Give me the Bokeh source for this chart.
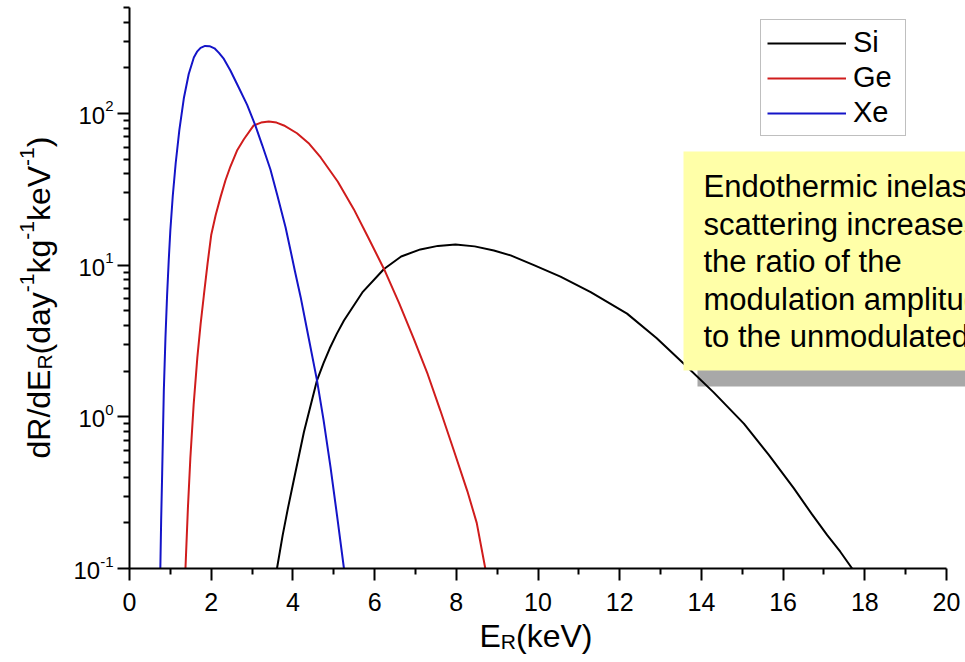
import math

from bokeh.core.properties import value
from bokeh.embed import file_html
from bokeh.layouts import column, row
from bokeh.models import CustomJSTickFormatter, FixedTicker, Range1d
from bokeh.plotting import figure
from bokeh.resources import INLINE

# Differential recoil rate dR/dE_R (day^-1 kg^-1 keV^-1) against recoil energy E_R (keV)
si_energy = [3.61, 3.75, 3.88, 4.02, 4.27, 4.59, 4.75, 4.90, 5.07, 5.25, 5.70,
             6.23, 6.65, 7.12, 7.55, 7.98, 8.45, 8.92, 9.33, 9.90, 10.55, 11.29,
             12.18, 12.90, 13.57, 14.30, 15.04, 15.65, 16.26, 16.70, 17.08,
             17.40, 17.69]
si_rate = [0.100, 0.166, 0.251, 0.380, 0.794, 1.74, 2.26, 2.82, 3.51, 4.32, 6.61,
           9.44, 11.4, 12.7, 13.4, 13.7, 13.3, 12.5, 11.6, 10.0, 8.41, 6.64,
           4.79, 3.31, 2.24, 1.45, 0.902, 0.562, 0.339, 0.229, 0.166,
           0.129, 0.100]

ge_energy = [1.37, 1.43, 1.49, 1.57, 1.66, 1.74, 1.82, 1.91, 2.00, 2.11, 2.23,
             2.35, 2.47, 2.64, 2.80, 3.04, 3.22, 3.41, 3.60, 3.78, 4.10, 4.40,
             4.68, 5.10, 5.49, 5.85, 6.23, 6.60, 6.96, 7.30, 7.61, 7.95, 8.27,
             8.50, 8.71]
ge_rate = [0.100, 0.251, 0.537, 1.20, 2.45, 4.07, 6.31, 10.2, 15.8, 21.4, 28.2,
           36.3, 44.7, 57.5, 67.6, 83.4, 87.1, 88.5, 87.1, 83.4, 74.1, 63.1,
           51.3, 35.5, 23.4, 15.1, 9.44, 5.62, 3.27, 1.91, 1.10, 0.589, 0.324,
           0.200, 0.100]

xe_energy = [0.755, 0.775, 0.80, 0.82, 0.84, 0.88, 0.92, 0.96, 1.00, 1.06, 1.13,
             1.22, 1.33, 1.45, 1.575, 1.66, 1.74, 1.85, 1.96, 2.08, 2.19, 2.31,
             2.47, 2.65, 2.88, 3.08, 3.25, 3.45, 3.62, 3.82, 3.94, 4.05, 4.19,
             4.39, 4.59, 4.75, 4.92, 5.08, 5.25]
xe_rate = [0.100, 0.209, 0.427, 0.794, 1.48, 3.31, 6.31, 10.7, 17.0, 28.8, 46.8,
           77.6, 126, 182, 234, 257, 271, 279, 278, 269, 251, 229,
           192, 153, 114, 83.4, 61.7, 42.7, 28.8, 17.8, 12.6, 9.12, 6.15,
           3.27, 1.74, 0.955, 0.468, 0.224, 0.100]

series_names = ["Si", "Ge", "Xe"]
series_colors = ["#000000", "#d01c1c", "#1414c8"]

x_ticks = [0, 2, 4, 6, 8, 10, 12, 14, 16, 18, 20]
x_minor_ticks = [1, 3, 5, 7, 9, 11, 13, 15, 17, 19]
y_ticks = [0.1, 1, 10, 100]
y_minor_ticks = [0.2, 0.3, 0.4, 0.5, 0.6, 0.7, 0.8, 0.9,
                 2, 3, 4, 5, 6, 7, 8, 9,
                 20, 30, 40, 50, 60, 70, 80, 90,
                 200, 300, 400, 500]

note_lines = ["Endothermic inelastic", "scattering increases", "the ratio of the",
              "modulation amplitude", "to the unmodulated"]

# ---- page geometry (pixels) ----
W, H = 965, 662
LEFT_W = 115          # strip holding the y tick labels and the y title
AXIS_W = 14           # room for the outward y ticks
TOP_H = 586           # height of the plot (frame plus the outward x ticks)
FRAME_BOTTOM = 568    # bottom edge of the data frame
X0 = LEFT_W + AXIS_W  # page x of E_R = 0
PX_PER_KEV = 40.85
PX_PER_DECADE = 151.67
FONT = "Liberation Sans"

# advance widths (em) used to chain text pieces together
ADV = {"d": .556, "R": .722, "/": .278, "E": .667, "(": .333, "a": .556,
       "y": .5, "-": .333, "1": .556, "k": .5, "g": .556, "e": .556,
       "V": .667, ")": .333, "0": .556, "2": .556}


def text_width(s, size):
    return sum(ADV.get(c, .556) for c in s) * size


def xd(px):
    """page x pixel -> keV"""
    return (px - X0) / PX_PER_KEV


def yd(py):
    """page y pixel (from top) -> rate on the log axis"""
    return 10 ** (-1 + (FRAME_BOTTOM - py) / PX_PER_DECADE)


def bare(fig):
    fig.outline_line_color = None
    fig.grid.visible = False
    fig.background_fill_color = "white"
    fig.border_fill_color = "white"
    # each strip keeps its own frame instead of lining up with its neighbours
    fig.frame_align = False
    return fig


# ---- main plot ----
p = bare(figure(width=W - LEFT_W, height=TOP_H, y_axis_type="log",
                x_range=Range1d(0, xd(W)), y_range=Range1d(0.1, yd(0)),
                output_backend="svg", toolbar_location=None,
                min_border_left=AXIS_W, min_border_right=0,
                min_border_top=0, min_border_bottom=TOP_H - FRAME_BOTTOM))

for ax in (p.xaxis[0], p.yaxis[0]):
    ax.axis_line_width = 2
    ax.axis_line_color = "black"
    ax.major_tick_line_width = 2
    ax.minor_tick_line_width = 2
    ax.major_tick_line_color = "black"
    ax.minor_tick_line_color = "black"
    ax.major_tick_in = 0
    ax.minor_tick_in = 0
    ax.major_tick_out = 12
    ax.minor_tick_out = 6
    ax.formatter = CustomJSTickFormatter(code="return ''")
    ax.major_label_text_font_size = "0px"
    ax.major_label_standoff = 0

xax = p.xaxis[0]
xax.bounds = (0, 20)
xax.ticker = FixedTicker(ticks=x_ticks, minor_ticks=x_minor_ticks)

yax = p.yaxis[0]
yax.bounds = (0.1, 500)
yax.ticker = FixedTicker(ticks=y_ticks, minor_ticks=y_minor_ticks)

# call-out shadow sits under the curves, the yellow card above them
p.quad(left=xd(697), right=xd(W + 30), top=yd(167), bottom=yd(386),
       fill_color="#a8a8a8", line_color=None)

for name, color, ex, ry in zip(series_names, series_colors,
                               [si_energy, ge_energy, xe_energy],
                               [si_rate, ge_rate, xe_rate]):
    p.line(ex, ry, line_color=color, line_width=2, legend_label=name)

p.quad(left=xd(683), right=xd(W + 30), top=yd(151), bottom=yd(370),
       fill_color="#ffffa8", line_color=None)
p.text(x=[xd(703)] * len(note_lines),
       y=[yd(186 + 37.5 * i) for i in range(len(note_lines))],
       text=note_lines, text_font=value(FONT), text_font_size="31px",
       text_baseline="alphabetic", text_align="left", text_color="black")

lg = p.legend[0]
lg.location = (760 - X0, FRAME_BOTTOM - 136)
lg.border_line_color = "#808080"
lg.border_line_width = 1.5
lg.background_fill_color = "white"
lg.background_fill_alpha = 1
lg.label_text_font = FONT
lg.label_text_font_size = "29px"
lg.label_text_color = "black"
lg.glyph_width = 79
lg.glyph_height = 30
lg.label_height = 30
lg.label_width = 46
lg.label_standoff = 7
lg.spacing = 2
lg.padding = 6
lg.margin = 0

# ---- left strip: y tick labels (10 with raised exponent) and y title ----
left = bare(figure(width=LEFT_W, height=H, y_axis_type="log",
                   x_range=Range1d(0, LEFT_W), y_range=Range1d(yd(H), yd(0)),
                   x_axis_location=None, y_axis_location=None,
                   output_backend="svg", toolbar_location=None, min_border=0))

LABEL_RIGHT = 113
exps = [str(int(round(math.log10(v)))) for v in y_ticks]
left.text(x=[LABEL_RIGHT] * len(y_ticks), y=y_ticks, text=exps, y_offset=-7,
          text_align="right", text_baseline="alphabetic", text_font=value(FONT),
          text_font_size="15px", text_color="black")
left.text(x=[LABEL_RIGHT - text_width(e, 15) for e in exps], y=y_ticks,
          text=["10"] * len(y_ticks), y_offset=2,
          text_align="right", text_baseline="alphabetic", text_font=value(FONT),
          text_font_size="24px", text_color="black")

MAIN, SMALL = 32, 21
SHIFT = {"n": 0, "sub": 6, "sup": -12}


def chain(fig, pieces, start, base, rotated, to_x, to_y):
    pos = start
    for txt, kind in pieces:
        size = MAIN if kind == "n" else SMALL
        if rotated:
            fig.text(x=[to_x(base + SHIFT[kind])], y=[to_y(pos)], text=[txt],
                     angle=math.pi / 2, text_align="left", text_baseline="alphabetic",
                     text_font=value(FONT), text_font_size=f"{size}px",
                     text_color="black")
            pos -= text_width(txt, size)
        else:
            fig.text(x=[to_x(pos)], y=[to_y(base + SHIFT[kind])], text=[txt],
                     text_align="left", text_baseline="alphabetic",
                     text_font=value(FONT), text_font_size=f"{size}px",
                     text_color="black")
            pos += text_width(txt, size)


chain(left, [("dR/dE", "n"), ("R", "sub"), ("(day", "n"), ("-1", "sup"), ("kg", "n"),
             ("-1", "sup"), ("keV", "n"), ("-1", "sup"), (")", "n")],
      458, 38, True, lambda px: px, yd)

# ---- bottom strip: x tick labels and x title ----
BOT_H = H - TOP_H
bottom = bare(figure(width=W - LEFT_W, height=BOT_H,
                     x_range=Range1d(xd(LEFT_W), xd(W)), y_range=Range1d(0, BOT_H),
                     x_axis_location=None, y_axis_location=None,
                     output_backend="svg", toolbar_location=None, min_border=0))
bottom.text(x=x_ticks, y=[H - 592] * len(x_ticks), text=[str(t) for t in x_ticks],
            text_align="center", text_baseline="top", text_font=value(FONT),
            text_font_size="25px", text_color="black")
chain(bottom, [("E", "n"), ("R", "sub"), ("(keV)", "n")], 479, 635, False,
      xd, lambda py: H - py)

layout = row(left, column(p, bottom))
open("out.html", "w").write(file_html(layout, INLINE))
